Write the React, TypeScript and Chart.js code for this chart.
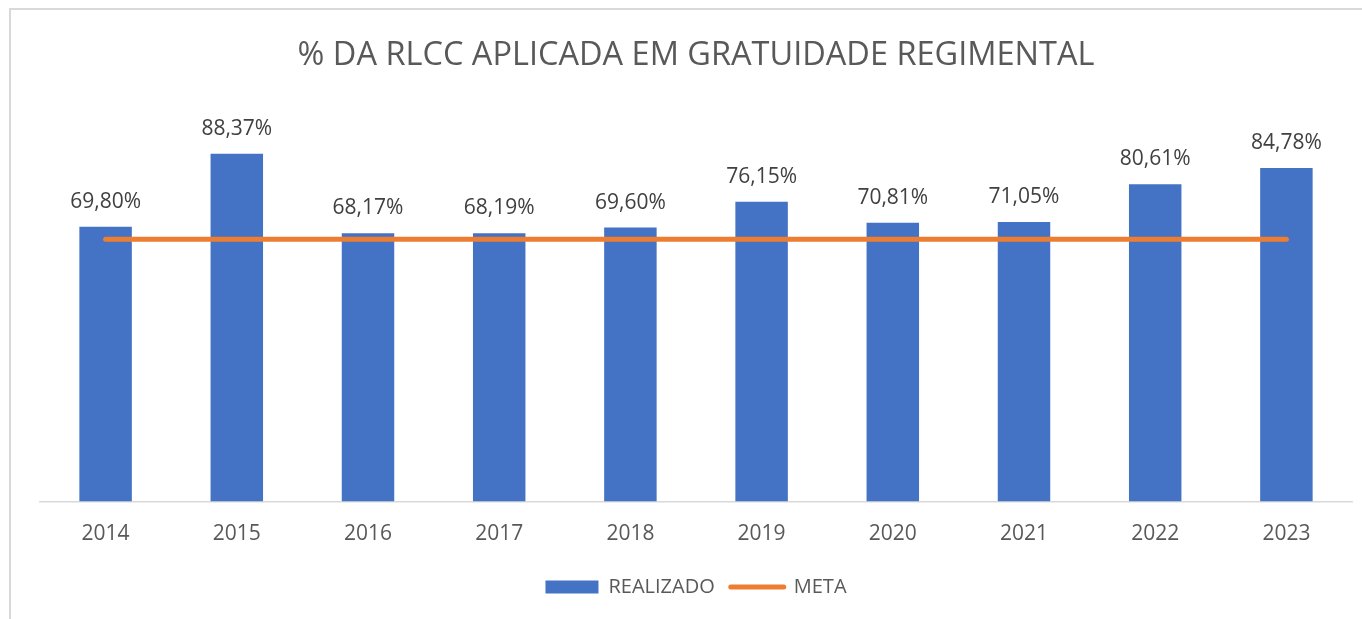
import React, { useEffect, useRef } from "react";
import { Chart, registerables } from "chart.js";

Chart.register(...registerables);

const TITLE = "% DA RLCC APLICADA EM GRATUIDADE REGIMENTAL";
const categories = ["2014", "2015", "2016", "2017", "2018", "2019", "2020", "2021", "2022", "2023"];
const realizado = [69.8, 88.37, 68.17, 68.19, 69.6, 76.15, 70.81, 71.05, 80.61, 84.78];
const meta = [66.67, 66.67, 66.67, 66.67, 66.67, 66.67, 66.67, 66.67, 66.67, 66.67];

const FONT = "'Open Sans', sans-serif";
const BLUE = "#4472C4";
const ORANGE = "#ED7D31";

const fmt = (v: number) => v.toFixed(2).replace(".", ",") + "%";

const dataLabels = {
  id: "dataLabels",
  afterDatasetsDraw(chart: any) {
    const ctx = chart.ctx;
    const meta0 = chart.getDatasetMeta(0);
    ctx.save();
    ctx.font = `21px ${FONT}`;
    ctx.fillStyle = "#404040";
    ctx.textAlign = "center";
    ctx.textBaseline = "alphabetic";
    meta0.data.forEach((bar: any, i: number) => {
      ctx.fillText(fmt(realizado[i]), bar.x, bar.y - 19);
    });
    ctx.restore();
  },
};

export default function App() {
  const ref = useRef<HTMLCanvasElement>(null);
  useEffect(() => {
    if (!ref.current) return;
    const chart = new Chart(ref.current, {
      type: "bar",
      data: {
        labels: categories,
        datasets: [
          {
            type: "bar",
            label: "REALIZADO",
            data: realizado,
            backgroundColor: BLUE,
            borderWidth: 0,
            barPercentage: 0.4,
            categoryPercentage: 1,
            order: 1,
          },
          {
            type: "line",
            label: "META",
            data: meta,
            borderColor: ORANGE,
            backgroundColor: ORANGE,
            borderWidth: 5,
            borderCapStyle: "round",
            pointRadius: 0,
            pointHoverRadius: 0,
            tension: 0,
            order: 0,
          } as any,
        ],
      },
      options: {
        animation: false,
        responsive: false,
        maintainAspectRatio: false,
        layout: { padding: { left: 40, right: 10, top: 0, bottom: 12 } },
        plugins: {
          title: {
            display: true,
            text: TITLE,
            color: "#595959",
            font: { family: FONT, size: 32.5, weight: "normal" },
            padding: { top: 36, bottom: 33 },
          },
          legend: {
            display: true,
            position: "bottom",
            labels: {
              color: "#595959",
              font: { family: FONT, size: 20 },
              usePointStyle: true,
              pointStyleWidth: 53,
              boxHeight: 13,
              padding: 16,
              generateLabels: (chart: any) => {
                return chart.data.datasets.map((ds: any, i: number) => ({
                  text: ds.label,
                  datasetIndex: i,
                  fillStyle: i === 0 ? BLUE : ORANGE,
                  strokeStyle: i === 0 ? BLUE : ORANGE,
                  lineWidth: i === 0 ? 0 : 5,
                  lineCap: "round",
                  pointStyle: i === 0 ? "rect" : "line",
                  fontColor: "#595959",
                  hidden: false,
                }));
              },
            },
          },
          tooltip: { enabled: false },
        },
        scales: {
          x: {
            grid: { display: false, drawTicks: false },
            border: { display: true, color: "#d9d9d9", width: 1.5 },
            ticks: {
              color: "#595959",
              font: { family: FONT, size: 21, lineHeight: 1.2 },
              padding: 19.9,
            },
            afterFit: (scale: any) => {
              scale.height = 59.5;
            },
          },
          y: {
            display: false,
            min: 0,
            max: 100,
          },
        },
      },
      plugins: [dataLabels],
    });
    return () => chart.destroy();
  }, []);

  return (
    <div style={{ position: "absolute", left: 0, top: 0, width: 1362, height: 619, background: "#fff", overflow: "hidden" }}>
      <div
        style={{
          position: "absolute",
          left: 9,
          top: 8,
          width: 1400,
          height: 700,
          borderTop: "2px solid #d9d9d9",
          borderLeft: "2px solid #d9d9d9",
          boxSizing: "border-box",
        }}
      />
      <canvas ref={ref} width={1362} height={619} style={{ position: "absolute", left: 0, top: 0 }} />
    </div>
  );
}
